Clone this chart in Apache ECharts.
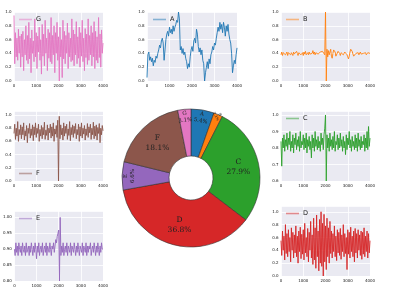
<!DOCTYPE html>
<html><head><meta charset="utf-8">
<script src="https://cdn.jsdelivr.net/npm/echarts@6/dist/echarts.min.js"></script>
<style>html,body{margin:0;padding:0;background:#fff}#c{width:395px;height:296px}</style>
</head><body><div id="c"></div>
<script>
// ---- data ----
const xTicks = [0, 1000, 2000, 3000, 4000];
const pieNames = ['A', 'B', 'C', 'D', 'E', 'F', 'G'];
const pieValues = [5.4, 2.1, 27.9, 36.8, 6.6, 18.1, 3.1];

const G = [0.95,0.25,0.70,0.35,0.62,0.30,0.75,0.40,0.65,0.20,
0.68,0.35,0.72,0.15,0.60,0.38,0.80,0.30,0.66,0.25,
0.85,0.32,0.62,0.12,0.74,0.40,0.58,0.28,0.90,0.35,
0.70,0.18,0.65,0.42,0.78,0.30,0.60,0.10,0.82,0.36,
0.68,0.22,0.88,0.40,0.62,0.15,0.75,0.33,0.70,0.28,
0.92,0.25,0.66,0.38,0.80,0.12,0.70,0.40,0.85,0.30,
0.64,0.00,0.78,0.35,0.60,0.05,0.88,0.32,0.72,0.25,
0.66,0.40,0.84,0.18,0.70,0.35,0.62,0.28,0.90,0.30,
0.74,0.22,0.68,0.38,0.86,0.25,0.64,0.33,0.78,0.20,
0.70,0.36,0.88,0.28,0.62,0.15,0.76,0.34,0.68,0.24,
0.90,0.30,0.66,0.38,0.80,0.22,0.70,0.35,0.86,0.18,
0.72,0.30,0.64,0.26,0.92,0.34,0.68,0.20,0.74,0.40,
0.55];

const A = [0.05,0.38,0.42,0.30,0.35,0.28,0.33,0.22,0.30,0.27,
0.36,0.33,0.40,0.45,0.52,0.48,0.58,0.62,0.55,0.30,
0.45,0.60,0.68,0.72,0.65,0.78,0.70,0.75,0.68,0.80,
0.72,0.78,0.82,0.88,0.85,1.00,0.90,0.45,0.50,0.40,
0.47,0.38,0.42,0.33,0.28,0.18,0.25,0.20,0.35,0.45,
0.50,0.43,0.58,0.62,0.55,0.75,0.68,0.50,0.42,0.48,
0.38,0.45,0.30,0.25,0.00,0.12,0.20,0.28,0.18,0.32,
0.25,0.38,0.42,0.50,0.45,0.55,0.52,0.62,0.70,0.78,
0.72,0.85,0.75,0.82,0.70,0.85,0.78,0.65,0.80,0.72,
0.82,0.68,0.60,0.55,0.40,0.12,0.22,0.30,0.25,0.38,
0.48];

const B = [0.38,0.42,0.37,0.41,0.39,0.43,0.38,0.40,0.42,0.37,
0.41,0.39,0.43,0.38,0.41,0.40,0.37,0.42,0.39,0.41,
0.38,0.43,0.40,0.37,0.41,0.39,0.42,0.38,0.40,0.41,
0.37,0.42,0.39,0.43,0.38,0.40,0.41,0.38,0.42,0.39,
0.41,0.37,0.40,0.44,0.39,0.42,0.38,0.41,0.40,0.43,
0.39,0.41,0.38,0.42,0.44,0.40,0.43,0.41,0.45,0.38,
1.00,0.00,0.46,0.35,
0.44,0.38,0.42,0.46,0.36,0.33,0.40,0.45,0.47,0.42,
0.36,0.34,0.38,0.43,0.45,0.40,0.37,0.41,0.39,0.42,
0.38,0.36,0.42,0.40,0.44,0.38,0.35,0.32,0.36,0.42,
0.46,0.47,0.43,0.39,0.36,0.34,0.37,0.40,0.42,0.39,
0.41,0.38,0.40,0.42,0.39,0.41,0.38,0.40,0.42,0.39,
0.41,0.38,0.40,0.41,0.39,0.42,0.40];

const F = [0.72,0.86,0.63,0.80,0.68,0.90,0.60,0.78,0.70,0.85,
0.64,0.82,0.70,0.88,0.62,0.76,0.68,0.84,0.58,0.80,
0.72,0.87,0.65,0.79,0.69,0.85,0.61,0.82,0.70,0.88,
0.66,0.80,0.72,0.86,0.60,0.78,0.68,0.84,0.64,0.81,
0.70,0.89,0.63,0.77,0.69,0.85,0.62,0.80,0.73,0.86,
0.65,0.82,0.68,0.88,0.60,0.79,0.71,0.84,0.66,0.92,
0.00,0.98,0.64,0.85,0.70,0.80,0.62,0.88,0.68,0.83,
0.72,0.86,0.63,0.79,0.69,0.90,0.61,0.81,0.70,0.85,
0.66,0.83,0.72,0.87,0.64,0.78,0.70,0.86,0.60,0.82,
0.68,0.88,0.65,0.80,0.71,0.84,0.62,0.79,0.69,0.87,
0.66,0.82,0.73,0.86,0.63,0.80,0.70,0.89,0.64,0.83,
0.68,0.85,0.62,0.81,0.72,0.87,0.58,0.80,0.70,0.84,
0.76];

const C = [0.84,0.69,0.86,0.80,0.88,0.78,0.85,0.81,0.89,0.79,
0.86,0.82,0.90,0.78,0.84,0.80,0.88,0.77,0.86,0.82,
0.89,0.79,0.85,0.81,0.87,0.78,0.90,0.80,0.84,0.82,
0.88,0.79,0.86,0.80,0.89,0.77,0.85,0.81,0.87,0.79,
0.84,0.74,0.88,0.80,0.86,0.78,0.90,0.81,0.85,0.79,
0.87,0.80,0.84,0.78,0.89,0.82,0.86,0.79,0.88,0.92,
1.00,0.60,0.88,0.80,0.86,0.78,0.89,0.81,0.85,0.79,
0.87,0.80,0.90,0.78,0.84,0.82,0.88,0.79,0.86,0.80,
0.89,0.81,0.85,0.78,0.87,0.80,0.84,0.76,0.88,0.79,
0.86,0.82,0.90,0.80,0.85,0.78,0.87,0.81,0.84,0.79,
0.88,0.80,0.86,0.78,0.89,0.81,0.85,0.79,0.87,0.80,
0.84,0.82,0.88,0.78,0.86,0.80,0.90,0.79,0.93,0.81,
0.86];

const E = [0.90,0.88,0.92,0.89,0.91,0.88,0.92,0.90,0.89,0.91,
0.88,0.92,0.90,0.89,0.91,0.88,0.92,0.89,0.90,0.91,
0.88,0.91,0.89,0.92,0.90,0.88,0.91,0.89,0.92,0.90,
0.87,0.91,0.89,0.92,0.88,0.90,0.91,0.89,0.92,0.88,
0.90,0.91,0.89,0.92,0.88,0.91,0.90,0.89,0.92,0.90,
0.88,0.91,0.90,0.92,0.89,0.91,0.93,0.92,0.94,0.95,
0.96,0.80,1.00,0.88,0.91,0.89,0.92,0.88,0.90,0.91,
0.89,0.92,0.88,0.91,0.90,0.89,0.92,0.88,0.91,0.90,
0.89,0.92,0.90,0.88,0.91,0.89,0.92,0.90,0.88,0.91,
0.90,0.89,0.92,0.88,0.91,0.90,0.89,0.92,0.88,0.91,
0.89,0.91,0.90,0.92,0.88,0.90,0.91,0.89,0.92,0.90,
0.88,0.91,0.89,0.92,0.90,0.88,0.91,0.89,0.92,0.90,
0.90];

const D = [0.55,0.32,0.70,0.40,0.62,0.25,0.80,0.35,0.66,0.30,
0.72,0.38,0.60,0.22,0.75,0.40,0.68,0.28,0.64,0.36,
0.78,0.30,0.62,0.20,0.70,0.38,0.76,0.27,0.65,0.34,
0.72,0.25,0.82,0.36,0.60,0.30,0.74,0.22,0.68,0.40,
0.85,0.28,0.64,0.18,0.90,0.25,0.75,0.12,0.95,0.30,
0.70,0.08,0.88,0.20,1.00,0.15,0.82,0.00,0.96,0.22,
0.78,0.10,0.90,0.30,0.75,0.20,0.85,0.35,0.70,0.28,
0.66,0.38,0.78,0.30,0.62,0.24,0.72,0.36,0.68,0.32,
0.74,0.26,0.64,0.38,0.80,0.30,0.66,0.35,0.60,0.10,
0.72,0.34,0.68,0.28,0.76,0.38,0.62,0.30,0.70,0.22,
0.74,0.36,0.66,0.28,0.72,0.40,0.64,0.32,0.70,0.26,
0.68,0.34,0.75,0.30,0.62,0.38,0.70,0.28,0.66,0.36,
0.55];

// ---- layout / style ----
const colors = {A:'#1f77b4',B:'#ff7f0e',C:'#2ca02c',D:'#d62728',E:'#9467bd',F:'#8c564b',G:'#e377c2'};
const panels = [
  {name:'G', values:G, box:[14,12,89,69], y:{min:0,max:1,interval:0.2,dec:1}, leg:[19,16]},
  {name:'A', values:A, box:[147,12,90,69], y:{min:0,max:1,interval:0.2,dec:1}, leg:[153,16]},
  {name:'B', values:B, box:[281,12,89,69], y:{min:0,max:1,interval:0.2,dec:1}, leg:[286,16]},
  {name:'F', values:F, box:[14,111,89,70], y:{min:0,max:1.06,interval:0.2,dec:1}, leg:[19,170]},
  {name:'C', values:C, box:[281,111,89,70], y:{min:0.6,max:1.024,interval:0.1,dec:1}, leg:[286,115]},
  {name:'E', values:E, box:[14,211,89,70], y:{min:0.8,max:1.02,interval:0.05,dec:2}, leg:[19,215]},
  {name:'D', values:D, box:[281,206,89,70], y:{min:0,max:1.09,interval:0.2,dec:1}, leg:[286,210]}
];
const tickFont = {fontSize:4, color:'#222', fontFamily:'DejaVu Sans'};

const grid=[], xAxis=[], yAxis=[], series=[], legend=[];
panels.forEach((p,i)=>{
  grid.push({left:p.box[0], top:p.box[1], width:p.box[2], height:p.box[3], show:true,
    backgroundColor:'#EAEAF2', borderWidth:0, containLabel:false});
  xAxis.push({type:'value', gridIndex:i, min:xTicks[0], max:xTicks[xTicks.length-1],
    interval:xTicks[1]-xTicks[0],
    axisLine:{show:false}, axisTick:{show:false},
    splitLine:{show:true, lineStyle:{color:'#fff', width:0.8}},
    axisLabel:Object.assign({margin:2.5, formatter:(v)=>String(Math.round(v))}, tickFont)});
  const yc = p.y;
  yAxis.push({type:'value', gridIndex:i, min:yc.min, max:yc.max, interval:yc.interval,
    axisLine:{show:false}, axisTick:{show:false},
    splitLine:{show:true, lineStyle:{color:'#fff', width:0.8}},
    axisLabel:Object.assign({margin:2.5, formatter:(v)=>{
      const k=(v-yc.min)/yc.interval; return Math.abs(k-Math.round(k))<1e-6 ? v.toFixed(yc.dec) : '';
    }}, tickFont)});
  const n = p.values.length;
  series.push({type:'line', name:p.name, xAxisIndex:i, yAxisIndex:i,
    data:p.values.map((v,j)=>[j*(xTicks[xTicks.length-1])/(n-1), v]),
    showSymbol:false, symbol:'none', lineStyle:{color:colors[p.name], width:1, opacity:0.9},
    itemStyle:{color:colors[p.name]}, silent:true});
  legend.push({data:[p.name], left:p.leg[0], top:p.leg[1], padding:0, icon:'rect',
    itemWidth:13, itemHeight:1.6, itemStyle:{opacity:0.5},
    textStyle:{fontSize:6.5, color:'#222', fontFamily:'DejaVu Sans', padding:[0,0,0,-1]},
    selectedMode:false});
});

const pieCenter=[191,178];
const mainLabelSet=['C','D','F'];
const ringLabel={A:-12, E:90, G:6};
const outerLabel={B:-62};
series.push({type:'pie', center:pieCenter, radius:[22,69], startAngle:90, clockwise:true,
  percentPrecision:1, silent:true,
  data:pieNames.map((n,i)=>({name:n, value:pieValues[i],
    itemStyle:{color:colors[n], borderColor:'#333', borderWidth:0.6},
    label:{show:mainLabelSet.includes(n)}})),
  label:{position:'inside', formatter:'{b}\n{d}%', fontSize:7.5, lineHeight:10,
    color:'#222', fontFamily:'DejaVu Serif'},
  labelLine:{show:false}});
series.push({type:'pie', center:pieCenter, radius:[48,69], startAngle:90, clockwise:true,
  percentPrecision:1, silent:true,
  data:pieNames.map((n,i)=>({name:n, value:pieValues[i],
    itemStyle:{color:'rgba(0,0,0,0)', borderWidth:0},
    label:{show:(n in ringLabel), rotate:(n in ringLabel)?ringLabel[n]:0}})),
  label:{position:'inside', formatter:'{b}\n{d}%', fontSize:5.5, lineHeight:7,
    color:'#222', fontFamily:'DejaVu Serif'},
  labelLine:{show:false}});
series.push({type:'pie', center:pieCenter, radius:[60,70], startAngle:90, clockwise:true,
  percentPrecision:1, silent:true,
  data:pieNames.map((n,i)=>({name:n, value:pieValues[i],
    itemStyle:{color:'rgba(0,0,0,0)', borderWidth:0},
    label:{show:(n in outerLabel), rotate:(n in outerLabel)?outerLabel[n]:0}})),
  label:{position:'inside', formatter:'{b}\n{d}%', fontSize:3.8, lineHeight:4.5,
    color:'#222', fontFamily:'DejaVu Serif'},
  labelLine:{show:false}});

const chart = echarts.init(document.getElementById('c'), null, {renderer:'canvas'});
chart.setOption({animation:false, backgroundColor:'#fff', grid, xAxis, yAxis, legend, series});
</script></body></html>
